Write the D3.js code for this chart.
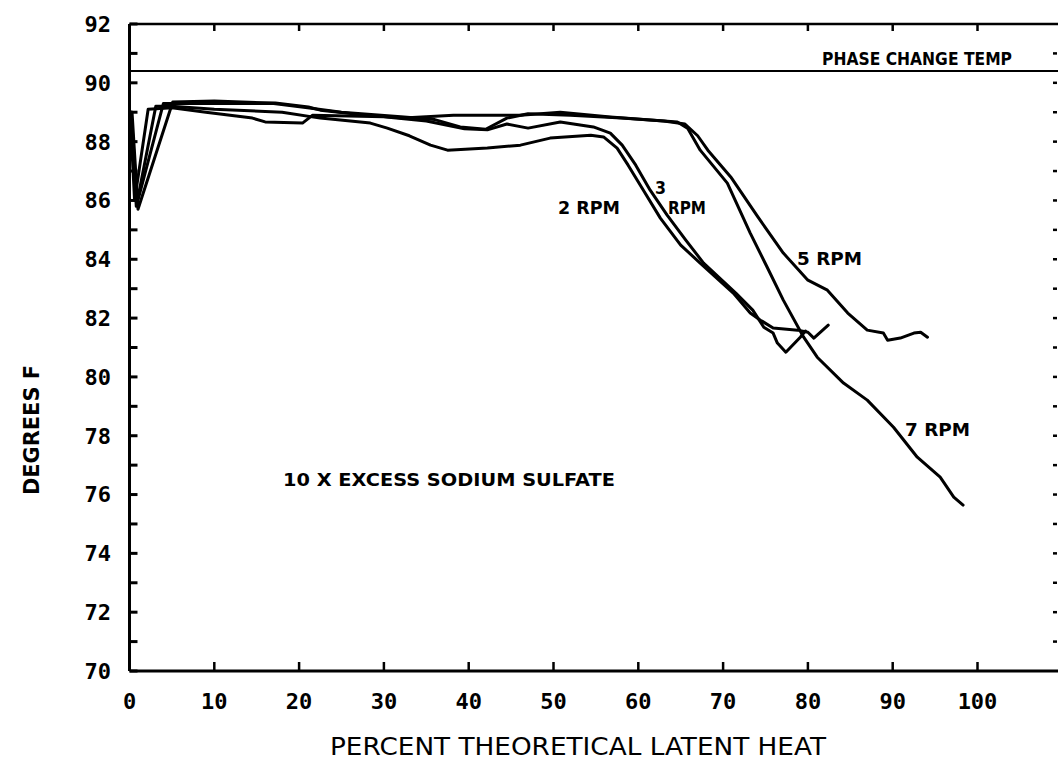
<!DOCTYPE html>
<html><head><meta charset="utf-8">
<script src="https://cdn.jsdelivr.net/npm/d3@7"></script>
<style>body{margin:0;background:#fff}svg{display:block}</style>
</head><body><svg id="c" width="1058" height="768"></svg>
<script>
// x: percent theoretical latent heat, y: degrees F
const xTicks = [0,10,20,30,40,50,60,70,80,90,100];
const yTicks = [70,72,74,76,78,80,82,84,86,88,90,92];
const phaseChangeTemp = 90.4;

const rpm2 = [[0.2,89.0],[0.8,85.8],[3.1,89.2],[5,89.2],[10,89.1],[18,89.0],[22.5,88.8],[28.4,88.63],[30.4,88.46],[33,88.2],[35.5,87.88],[37.5,87.71],[42.2,87.78],[46.1,87.88],[49.6,88.12],[54.4,88.22],[55.9,88.16],[57.5,87.78],[58.8,87.2],[60.6,86.35],[62.6,85.4],[65.0,84.48],[67.3,83.87],[71.2,82.85],[73.2,82.17],[74.4,81.93],[75.9,81.66],[78.8,81.59],[80.0,81.52],[80.7,81.32],[82.4,81.76]];
const rpm3 = [[0.1,88.8],[0.6,86.0],[2.2,89.1],[5,89.15],[9,89.0],[14.5,88.8],[16,88.67],[20.4,88.63],[21.6,88.9],[30,88.85],[35,88.7],[39.5,88.44],[42.2,88.4],[44.5,88.6],[47,88.46],[50.8,88.67],[54.7,88.5],[56.7,88.29],[58.1,87.88],[59.7,87.2],[61.4,86.35],[63.4,85.5],[65.6,84.65],[67.7,83.87],[71.5,82.85],[73.5,82.27],[74.8,81.69],[75.9,81.49],[76.4,81.15],[77.4,80.84],[79.1,81.35],[79.7,81.56]];
const rpm5 = [[0.2,89.0],[0.9,85.9],[4.0,89.3],[10,89.3],[17,89.3],[21,89.15],[25,89.0],[32,88.85],[36,88.75],[39,88.5],[42,88.42],[44.5,88.8],[47,88.95],[52,88.9],[58,88.8],[63,88.7],[65.5,88.6],[67,88.2],[68.2,87.71],[70.9,86.8],[74.1,85.44],[77.1,84.21],[80.0,83.29],[82.3,82.95],[84.7,82.17],[87.0,81.59],[88.9,81.49],[89.4,81.25],[90.9,81.32],[92.5,81.49],[93.3,81.52],[94.1,81.35]];
const rpm7 = [[0.3,89.0],[1.0,85.7],[5.1,89.35],[10,89.38],[17.2,89.31],[21.1,89.18],[22.5,89.07],[28,88.9],[32.3,88.8],[38.2,88.9],[46.1,88.9],[50.8,89.0],[56.7,88.84],[64.6,88.67],[65.8,88.46],[67.3,87.71],[70.5,86.59],[73.2,84.89],[75.2,83.73],[77.1,82.61],[79.5,81.35],[81.1,80.67],[84.2,79.79],[87.0,79.21],[90.1,78.29],[92.9,77.27],[95.6,76.59],[97.2,75.91],[98.3,75.64]];

const svg = d3.select("#c");
const L = 129.5, R = 1056, T = 24, B = 671;
const x = d3.scaleLinear().domain([0, (R-L)/8.48]).range([L, R]);
const y = d3.scaleLinear().domain([70, 92]).range([B, T]);
const ink = "#000";

// frame: left, bottom, top
svg.append("line").attr("x1",L).attr("x2",L).attr("y1",T).attr("y2",B).attr("stroke",ink).attr("stroke-width",3);
svg.append("line").attr("x1",L).attr("x2",R+2).attr("y1",B).attr("y2",B).attr("stroke",ink).attr("stroke-width",3);
svg.append("line").attr("x1",L).attr("x2",R+2).attr("y1",T).attr("y2",T).attr("stroke",ink).attr("stroke-width",2.5);

// left ticks every degree (inward)
const allDeg = d3.range(70, 93, 1);
svg.selectAll(".lt").data(allDeg).join("line")
  .attr("x1",L).attr("x2",L+8).attr("y1",d=>y(d)).attr("y2",d=>y(d)).attr("stroke",ink).attr("stroke-width",3);
// right ticks (faint)
svg.selectAll(".rt").data(d3.range(71, 92, 1)).join("line")
  .attr("x1",R-3).attr("x2",R+1).attr("y1",d=>y(d)).attr("y2",d=>y(d)).attr("stroke",ink).attr("stroke-width",2.5);
// bottom ticks
svg.selectAll(".bt").data(xTicks.slice(1)).join("line")
  .attr("x1",d=>x(d)).attr("x2",d=>x(d)).attr("y1",B).attr("y2",B-9).attr("stroke",ink).attr("stroke-width",2.5);
// top ticks
svg.selectAll(".tt").data(xTicks.slice(1)).join("line")
  .attr("x1",d=>x(d)).attr("x2",d=>x(d)).attr("y1",T).attr("y2",T+7).attr("stroke",ink).attr("stroke-width",2.5);

const tickFont = "'DejaVu Sans Mono', monospace";
svg.selectAll(".yl").data(yTicks).join("text")
  .attr("x",111).attr("y",d=>y(d)).attr("dy","0.36em").attr("text-anchor","end")
  .attr("font-family",tickFont).attr("font-weight","bold").attr("font-size",22).attr("fill",ink)
  .text(d=>d);
svg.selectAll(".xl").data(xTicks).join("text")
  .attr("x",d=>x(d)).attr("y",701).attr("dy","0.36em").attr("text-anchor","middle")
  .attr("font-family",tickFont).attr("font-weight","bold").attr("font-size",22).attr("fill",ink)
  .text(d=>d);

// phase change line
svg.append("line").attr("x1",L).attr("x2",R+2).attr("y1",y(phaseChangeTemp)).attr("y2",y(phaseChangeTemp)).attr("stroke",ink).attr("stroke-width",2);

// curves
const line = d3.line().x(d=>x(d[0])).y(d=>y(d[1]));
[rpm2, rpm3, rpm5, rpm7].forEach(s => {
  svg.append("path").attr("d", line(s)).attr("fill","none").attr("stroke",ink)
    .attr("stroke-width",3).attr("stroke-linejoin","round").attr("stroke-linecap","round");
});

// annotations
const annFont = "'DejaVu Sans', sans-serif";
function ann(t, px, py, w, fs) {
  svg.append("text").attr("x",px).attr("y",py).attr("font-family",annFont).attr("font-weight","bold")
    .attr("font-size",fs||18).attr("fill",ink).attr("textLength",w).attr("lengthAdjust","spacingAndGlyphs").text(t);
}
ann("PHASE CHANGE TEMP", 822, 65, 190, 18);
ann("2 RPM", 558, 214, 62, 18);
ann("3", 655, 194, 11, 18);
ann("RPM", 668, 214, 38, 18);
ann("5 RPM", 797, 265, 65, 18);
ann("7 RPM", 905, 436, 65, 18);
ann("10 X EXCESS SODIUM SULFATE", 283, 486, 332, 18);

// axis titles
svg.append("text").attr("x",330).attr("y",755).attr("font-family",annFont).attr("font-size",25)
  .attr("fill",ink).attr("textLength",496).attr("lengthAdjust","spacingAndGlyphs")
  .text("PERCENT THEORETICAL LATENT HEAT");
svg.append("text").attr("transform","translate(39,495) rotate(-90)").attr("font-family",annFont)
  .attr("font-weight","bold").attr("font-size",22).attr("fill",ink).attr("textLength",130).attr("lengthAdjust","spacingAndGlyphs")
  .text("DEGREES F");
</script></body></html>
